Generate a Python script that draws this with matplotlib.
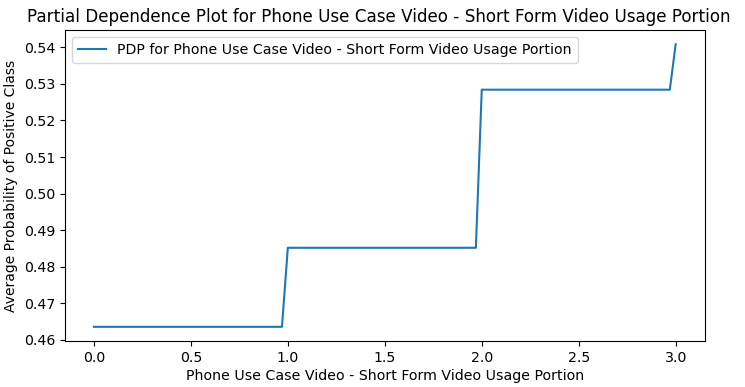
import matplotlib
matplotlib.use("Agg")
import matplotlib.pyplot as plt

title = "Partial Dependence Plot for Phone Use Case Video - Short Form Video Usage Portion"
xlabel = "Phone Use Case Video - Short Form Video Usage Portion"
ylabel = "Average Probability of Positive Class"
legend_label = "PDP for Phone Use Case Video - Short Form Video Usage Portion"

# grid points (key vertices of the step curve)
x_vals = [0.0, 0.9697, 1.0, 1.9697, 2.0, 2.9697, 3.0]
y_vals = [0.4636, 0.4636, 0.4852, 0.4852, 0.5284, 0.5284, 0.5408]

plt.rcParams["font.size"] = 10.2
fig = plt.figure(figsize=(7.45, 3.87), dpi=100)
ax = fig.add_axes([0.087, 0.119, 0.859, 0.803])
ax.plot(x_vals, y_vals, color="#1f77b4", label=legend_label)
ax.set_title(title, fontsize=12.1, x=0.49)
ax.set_xlabel(xlabel, labelpad=3)
ax.set_ylabel(ylabel, labelpad=4, fontsize=10)
ax.set_xticks([0.0, 0.5, 1.0, 1.5, 2.0, 2.5, 3.0])
ax.set_yticks([0.46, 0.47, 0.48, 0.49, 0.50, 0.51, 0.52, 0.53, 0.54])
ax.yaxis.set_major_formatter(matplotlib.ticker.FormatStrFormatter("%.2f"))
ax.legend(loc="upper left")
fig.savefig("out.png", dpi=100)
